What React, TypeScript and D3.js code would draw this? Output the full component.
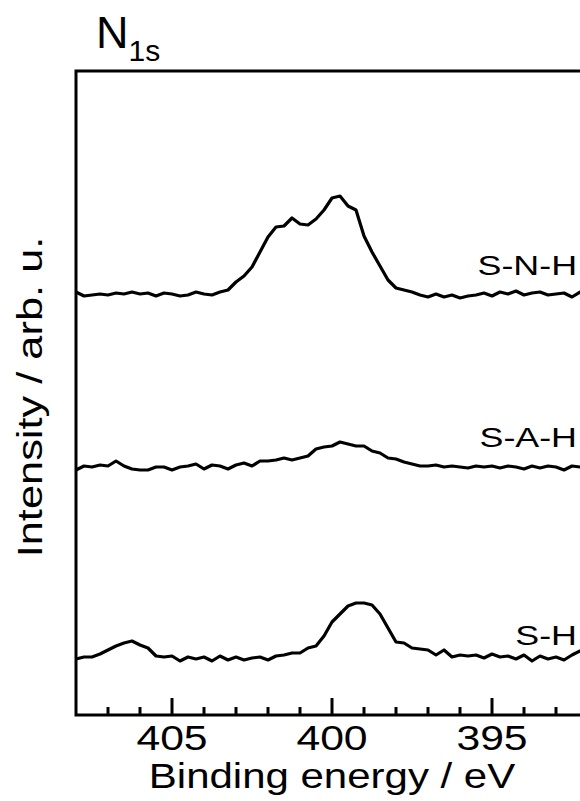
import React, { useEffect, useRef } from 'react';
import * as d3 from 'd3';

// binding energy grid (eV), read left to right: 408 -> 392 in 0.25 eV steps
const eStart = 408;
const eStep = 0.25;

// traces, intensity above each trace's own baseline (arb. u.)
const sH = [
  -1, 1, 1, 4, 8, 12, 15, 17, 13, 10, 2, 1, 2, -3, 1, -1, 1, -3, 2, -2, 1, -2, 0, 1, -2, 2,
  3, 5, 5, 10, 12, 22, 36, 44, 52, 55, 55, 53, 44, 30, 16, 15, 10, 9, 8, 3, 8, 1, 3, 2, 3,
  0, 4, 1, 2, -1, 3, -3, 2, -1, 1, -2, 3, 7, 2,
];
const sAH = [
  -3, 1, 0, 2, 1, 6, 1, -2, -3, -3, 0, 0, -3, 0, 1, 3, -2, 2, 1, -2, 2, 4, 1, 6, 6, 7, 9,
  7, 9, 11, 18, 20, 21, 25, 23, 21, 21, 16, 14, 9, 8, 5, 3, 1, 1, 2, 0, 1, 0, -1, 1, 0, 1,
  -1, 1, 0, -2, 1, -1, 1, 0, -3, 1, 0, 0,
];
const sNH = [
  3, -1, 0, 1, 0, 2, 1, 3, 1, 2, -1, 2, 1, -1, 0, 3, 1, 0, 3, 5, 13, 19, 28, 43, 58, 68,
  69, 77, 71, 70, 76, 85, 97, 99, 89, 85, 59, 43, 29, 15, 7, 5, 3, 0, -2, 1, -2, 0, -3, -1,
  0, 2, -1, 3, 1, 4, 0, 2, 3, 0, 1, 2, -2, 3, 1,
];

const seriesNames = ['S-H', 'S-A-H', 'S-N-H'];
const seriesValues = [sH, sAH, sNH];
const seriesOffsets = [57, 248, 420];

const majorTicks = [405, 400, 395];
const minorTicks = [407, 406, 404, 403, 402, 401, 399, 398, 397, 396, 394, 393];

const FONT = '"Liberation Sans", Arial, Helvetica, sans-serif';

function App() {
  const ref = useRef<SVGSVGElement>(null);

  useEffect(() => {
    const width = 580;
    const height = 801;
    const m = { left: 76, top: 71, bottom: 715 };

    const svg = d3.select(ref.current).attr('width', width).attr('height', height);
    svg.selectAll('*').remove();

    const x = d3.scaleLinear().domain([408, 392]).range([m.left, m.left + 16 * 32]);
    const y = d3.scaleLinear().domain([0, 644]).range([m.bottom, m.top]);

    // the original lettering is wider than Liberation Sans, stretch along the text
    const wideText = (px: number, py: number, size: number, sx: number, rot = 0) =>
      svg
        .append('text')
        .attr('transform', `translate(${px},${py}) rotate(${rot}) scale(${sx},1)`)
        .attr('font-family', FONT)
        .attr('font-size', size);

    const line = d3
      .line<number>()
      .x((_, i) => x(eStart - i * eStep))
      .y((d) => d);

    seriesValues.forEach((vals, k) => {
      const off = seriesOffsets[k];
      svg
        .append('path')
        .attr('d', line(vals.map((v) => y(v + off))))
        .attr('fill', 'none')
        .attr('stroke', '#000')
        .attr('stroke-width', 3.2)
        .attr('stroke-linejoin', 'round');

      wideText(577, y(off) - (k === 0 ? 13 : 20), 28, 1.28)
        .attr('text-anchor', 'end')
        .text(seriesNames[k]);
    });

    // frame: left and top, bottom axis
    svg
      .append('path')
      .attr('d', `M${width + 5},${m.top}H${m.left}V${m.bottom}H${width + 5}`)
      .attr('fill', 'none')
      .attr('stroke', '#000')
      .attr('stroke-width', 3);

    svg
      .selectAll('line.major')
      .data(majorTicks)
      .enter()
      .append('line')
      .attr('x1', (d) => x(d))
      .attr('x2', (d) => x(d))
      .attr('y1', m.bottom)
      .attr('y2', m.bottom - 17)
      .attr('stroke', '#000')
      .attr('stroke-width', 3);

    svg
      .selectAll('line.minor')
      .data(minorTicks)
      .enter()
      .append('line')
      .attr('x1', (d) => x(d))
      .attr('x2', (d) => x(d))
      .attr('y1', m.bottom)
      .attr('y2', m.bottom - 8)
      .attr('stroke', '#000')
      .attr('stroke-width', 3);

    majorTicks.forEach((t) => {
      wideText(x(t), 750, 35, 1.22).attr('text-anchor', 'middle').text(t);
    });

    wideText(332, 788, 35, 1.2).attr('text-anchor', 'middle').text('Binding energy / eV');

    wideText(42, 397, 35, 1.24, -90).attr('text-anchor', 'middle').text('Intensity / arb. u.');

    const title = svg
      .append('text')
      .attr('x', 96)
      .attr('y', 48)
      .attr('font-family', FONT)
      .attr('font-size', 45);
    title.append('tspan').text('N');
    title.append('tspan').attr('font-size', 30).attr('dy', 13).text('1s');
  }, []);

  return (
    <div style={{ position: 'absolute', left: 0, top: 0 }}>
      <svg ref={ref} style={{ display: 'block' }}></svg>
    </div>
  );
}

export default App;
